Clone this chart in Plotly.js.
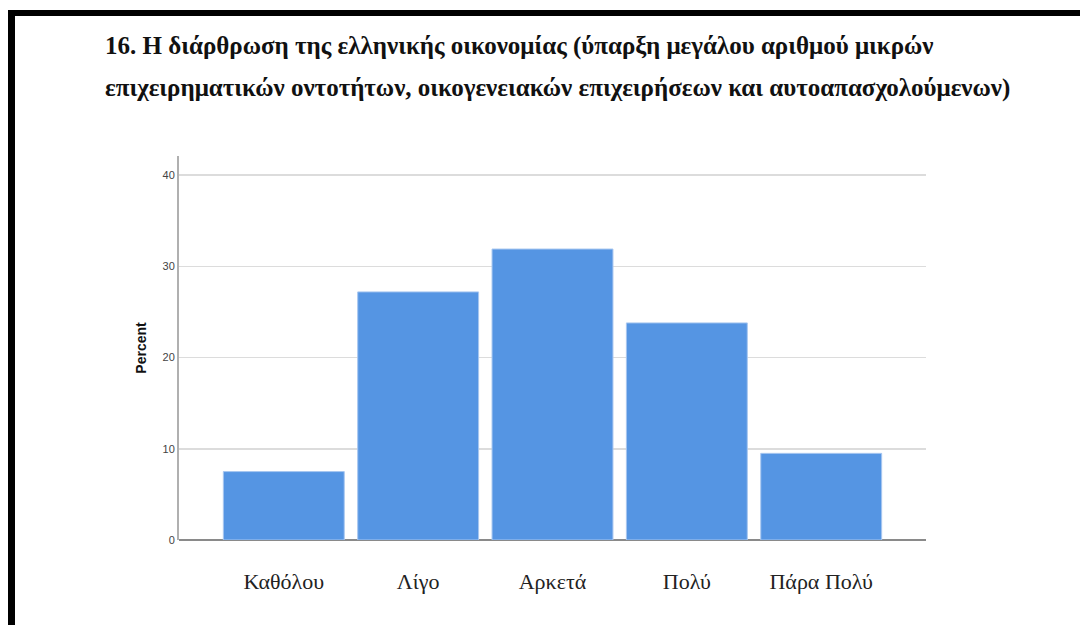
<!DOCTYPE html>
<html>
<head>
<meta charset="utf-8">
<script src="https://cdn.plot.ly/plotly-3.0.1.min.js"></script>
<style>
  html, body { margin: 0; padding: 0; background: #fff; }
  #chart { position: absolute; left: 0; top: 0; width: 1080px; height: 625px; }
  .bt { position: absolute; left: 8px; top: 10px; width: 1072px; height: 6px; background: #000; }
  .bl { position: absolute; left: 8px; top: 10px; width: 7px; height: 615px; background: #000; }
</style>
</head>
<body>
<div id="chart"></div>
<div class="bt"></div>
<div class="bl"></div>
<script>
const categories = ["Καθόλου", "Λίγο", "Αρκετά", "Πολύ", "Πάρα Πολύ"];
const percents = [7.5, 27.2, 31.9, 23.8, 9.5];
const yTicks = [0, 10, 20, 30, 40];
const titleLine1 = "16. Η διάρθρωση της ελληνικής οικονομίας (ύπαρξη μεγάλου αριθμού μικρών";
const titleLine2 = "επιχειρηματικών οντοτήτων, οικογενειακών επιχειρήσεων και αυτοαπασχολούμενων)";
const yTitle = "Percent";

const L = 179, R = 926, T = 156, B = 540;
const px = x => (x - L) / (R - L);
const py = y => (B - y) / (B - T);

const trace = {
  type: "bar",
  x: categories,
  y: percents,
  width: 0.9,
  marker: { color: "#5595e3", line: { color: "#a8c7f0", width: 1 } },
  hoverinfo: "x+y"
};

const layout = {
  width: 1080, height: 625,
  margin: { l: L, r: 1080 - R, t: T, b: 625 - B },
  paper_bgcolor: "#ffffff",
  plot_bgcolor: "#ffffff",
  showlegend: false,
  xaxis: {
    type: "category",
    range: [-0.78, 4.78],
    showgrid: false,
    zeroline: false,
    showline: false,
    ticks: "",
    ticklabelstandoff: 26,
    tickfont: { family: "Liberation Serif, Times New Roman, serif", size: 22, color: "#222" }
  },
  yaxis: {
    range: [0, 42.1],
    tickvals: yTicks,
    ticktext: yTicks.map(String),
    showgrid: true,
    gridcolor: "#dcdcdc",
    gridwidth: 1.5,
    zeroline: true,
    zerolinecolor: "#8a8a8a",
    zerolinewidth: 1.5,
    showline: true,
    linecolor: "#b0b0b0",
    linewidth: 2,
    ticks: "",
    ticklabelstandoff: 0,
    tickfont: { family: "Liberation Sans, Arial, sans-serif", size: 11, color: "#444" },
    title: { text: "<b>" + yTitle + "</b>", standoff: 13,
             font: { family: "Liberation Sans, Arial, sans-serif", size: 14, color: "#111" } }
  },
  annotations: [
    { text: "<b>" + titleLine1 + "</b>", xref: "paper", yref: "paper",
      x: px(103), y: py(46), xanchor: "left", yanchor: "middle", showarrow: false,
      font: { family: "Liberation Serif, Times New Roman, serif", size: 25, color: "#111" } },
    { text: "<b>" + titleLine2 + "</b>", xref: "paper", yref: "paper",
      x: px(103), y: py(88), xanchor: "left", yanchor: "middle", showarrow: false,
      font: { family: "Liberation Serif, Times New Roman, serif", size: 25, color: "#111" } }
  ]
};

Plotly.newPlot("chart", [trace], layout, { displayModeBar: false, staticPlot: true });
</script>
</body>
</html>
